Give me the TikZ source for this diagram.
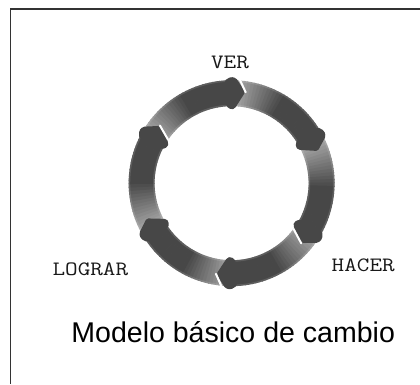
\documentclass[tikz,border=0pt]{standalone}
\usepackage{fontspec}
\setmainfont{Liberation Sans}
\setmonofont[FakeStretch=1.2]{Latin Modern Mono}
\tikzset{
  frameline/.style={line width=0.04cm,black!80},
  steplabel/.style={font=\ttfamily\fontsize{14.5}{16}\selectfont,text=black!90,inner sep=0pt},
  headblob/.style={line join=round,black!72,rounded corners=0.04cm},
  slitline/.style={white,line width=0.05cm,line cap=round},
  rimline/.style={white,opacity=0.12,line width=0.04cm}
}
\begin{document}
\begin{tikzpicture}
   \useasboundingbox (0,0) rectangle (10.5,9.6);
   \fill[white] (0,0) rectangle (10.5,9.6);
   % frame on the top and left only
   \draw[frameline] (10.5,9.38) -- (0.26,9.38) -- (0.26,0);
   \coordinate (hub) at (5.79,5.02);
   % bodies of the six arrows, from light at the tail to dark
   \foreach \wing in {89,28,-33,-92,-150,-211}{
      \pgfmathsetmacro{\tail}{\wing+59}
      \foreach \k in {0,...,29}{
         \pgfmathsetmacro{\angA}{\tail-(\tail-\wing)*\k/30}
         \pgfmathsetmacro{\angB}{\angA-(\tail-\wing)/30-0.4}
         \pgfmathsetmacro{\tone}{72-36*max(0,1-\k/14)}
         \fill[black!\tone] ([shift={(\angA:1.925)}]hub) arc[start angle=\angA,end angle=\angB,radius=1.925]
            -- ([shift={(\angB:2.575)}]hub) arc[start angle=\angB,end angle=\angA,radius=2.575] -- cycle;
      }
   }
   % soft rims
   \draw[rimline] (hub) circle[radius=1.945];
   \draw[rimline] (hub) circle[radius=2.555];
   % heads, pointing clockwise
   \foreach \wing in {89,28,-33,-92,-150,-211}{
      \fill[headblob]
         ([shift={(\wing+1.5:2.66)}]hub) -- ([shift={(\wing-1.5:2.63)}]hub)
         -- ([shift={(\wing-7.5:2.3)}]hub)
         -- ([shift={(\wing-1.5:1.87)}]hub) -- ([shift={(\wing+1.5:1.84)}]hub)
         -- ([shift={(\wing+5:1.93)}]hub) -- ([shift={(\wing+5:2.57)}]hub) -- cycle;
   }
   % thin white slits along some heads
   \foreach \wing/\rim in {89/2.6,-33/1.93,-92/2.6,149/1.93}{
      \draw[slitline] ([shift={(\wing-7.8:2.3)}]hub) -- ([shift={(\wing-3.5:\rim)}]hub);
   }
   \node[steplabel] (ver) at (5.75,8.05) {VER};
   \node[steplabel] (hacer) at (9.08,2.97) {HACER};
   \node[steplabel] (lograr) at (2.26,2.88) {LOGRAR};
   \node[inner sep=0pt,font=\fontsize{20.3}{22}\selectfont] (titulo) at (5.83,1.3) {Modelo básico de cambio};
\end{tikzpicture}
\end{document}
